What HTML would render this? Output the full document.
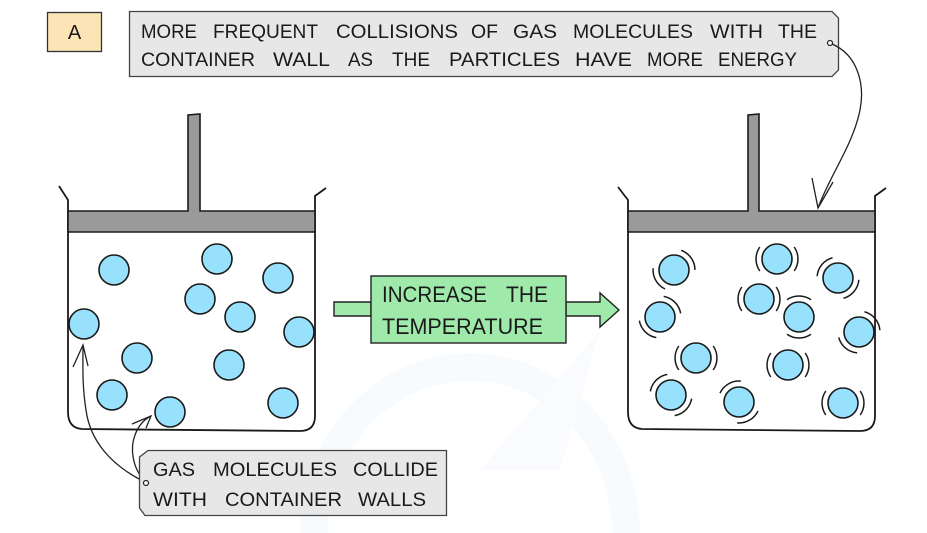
<!DOCTYPE html>
<html>
<head>
<meta charset="utf-8">
<style>
  html,body{margin:0;padding:0;background:#fff;}
  svg{display:block;}
  text{font-family:"Liberation Sans", sans-serif; fill:#1a1a1a;}
</style>
</head>
<body>
<svg width="927" height="533" viewBox="0 0 927 533" xmlns="http://www.w3.org/2000/svg">
  <!-- faint watermark -->
  <path d="M300,533 A170,180 0 0 1 640,533 L612,533 A142,152 0 0 0 328,533 Z" fill="#f8fbfe"/>
  <path d="M480,470 L600,330 L560,470 Z" fill="#f9fbfe"/>

  <!-- Label A -->
  <rect x="47.5" y="12.5" width="54" height="39" fill="#fde4b6" stroke="#333" stroke-width="1.3"/>
  <text x="74.5" y="39" font-size="20" text-anchor="middle">A</text>

  <!-- Top annotation box -->
  <path d="M129.5,11.5 L832,11.5 L838.5,18 L838.5,70 L832,76.5 L129.5,76.5 Z" fill="#e7e7e7" stroke="#444" stroke-width="1.3"/>
  <g font-size="19.5">
    <text x="141" y="38" textLength="56" lengthAdjust="spacingAndGlyphs">MORE</text>
    <text x="213" y="38" textLength="105" lengthAdjust="spacingAndGlyphs">FREQUENT</text>
    <text x="336" y="38" textLength="122" lengthAdjust="spacingAndGlyphs">COLLISIONS</text>
    <text x="471" y="38" textLength="27" lengthAdjust="spacingAndGlyphs">OF</text>
    <text x="513" y="38" textLength="44" lengthAdjust="spacingAndGlyphs">GAS</text>
    <text x="573" y="38" textLength="120" lengthAdjust="spacingAndGlyphs">MOLECULES</text>
    <text x="710" y="38" textLength="53" lengthAdjust="spacingAndGlyphs">WITH</text>
    <text x="778" y="38" textLength="39" lengthAdjust="spacingAndGlyphs">THE</text>

    <text x="141" y="66" textLength="114" lengthAdjust="spacingAndGlyphs">CONTAINER</text>
    <text x="273" y="66" textLength="57" lengthAdjust="spacingAndGlyphs">WALL</text>
    <text x="348" y="66" textLength="25" lengthAdjust="spacingAndGlyphs">AS</text>
    <text x="392" y="66" textLength="38" lengthAdjust="spacingAndGlyphs">THE</text>
    <text x="449" y="66" textLength="111" lengthAdjust="spacingAndGlyphs">PARTICLES</text>
    <text x="575" y="66" textLength="57" lengthAdjust="spacingAndGlyphs">HAVE</text>
    <text x="647" y="66" textLength="56" lengthAdjust="spacingAndGlyphs">MORE</text>
    <text x="718" y="66" textLength="79" lengthAdjust="spacingAndGlyphs">ENERGY</text>
  </g>

  <!-- top connector -->
  <circle cx="830" cy="43" r="2.5" fill="#fff" stroke="#222" stroke-width="1.2"/>
  <path d="M832,44 C858,55 865,85 860,110 C853,145 830,175 818,208" fill="none" stroke="#222" stroke-width="1.3"/>
  <path d="M812,178 L818,208 L833,182" fill="none" stroke="#222" stroke-width="1.3"/>

  <!-- LEFT CONTAINER -->
  <path d="M59,186 L68,200 L68,412 Q68,428 82,429 L300,431 Q315,431 315,416 L315,196 L326,188" fill="none" stroke="#1a1a1a" stroke-width="1.8"/>
  <path d="M68,211 L188,211 L188,115 L200,114 L200,211 L315,211 L315,232 L68,232 Z" fill="#9a9a9a" stroke="#1a1a1a" stroke-width="1.6"/>

  <g fill="#98e1fc" stroke="#1a1a1a" stroke-width="1.6">
    <circle cx="114" cy="270" r="15"/>
    <circle cx="217" cy="259" r="15"/>
    <circle cx="278" cy="278" r="15"/>
    <circle cx="200" cy="299" r="15"/>
    <circle cx="240" cy="317" r="15"/>
    <circle cx="84" cy="324" r="15"/>
    <circle cx="299" cy="332" r="15"/>
    <circle cx="137" cy="358" r="15"/>
    <circle cx="229" cy="365" r="15"/>
    <circle cx="112" cy="395" r="15"/>
    <circle cx="170" cy="412" r="15"/>
    <circle cx="283" cy="403" r="15"/>
  </g>

  <!-- bottom annotation connectors -->
  <path d="M145,482 C110,465 90,440 86,410 C82,385 83,365 83,345" fill="none" stroke="#222" stroke-width="1.3"/>
  <path d="M73,367 L83,345 L88,366" fill="none" stroke="#222" stroke-width="1.3"/>
  <path d="M145,481 C132,468 130,448 135,435 C139,424 145,419 151,416" fill="none" stroke="#222" stroke-width="1.3"/>
  <path d="M132,424 L151,416 L146,428" fill="none" stroke="#222" stroke-width="1.3"/>

  <!-- bottom annotation box -->
  <path d="M148,450.5 L446.5,450.5 L446.5,515.5 L145,515.5 L139.5,508 L139.5,457 Z" fill="#e7e7e7" stroke="#444" stroke-width="1.3"/>
  <circle cx="146" cy="483" r="2.5" fill="#fff" stroke="#222" stroke-width="1.2"/>
  <g font-size="19.5">
    <text x="153" y="476" textLength="42" lengthAdjust="spacingAndGlyphs">GAS</text>
    <text x="213" y="476" textLength="124" lengthAdjust="spacingAndGlyphs">MOLECULES</text>
    <text x="353" y="476" textLength="85" lengthAdjust="spacingAndGlyphs">COLLIDE</text>
    <text x="153" y="506" textLength="54" lengthAdjust="spacingAndGlyphs">WITH</text>
    <text x="225" y="506" textLength="117" lengthAdjust="spacingAndGlyphs">CONTAINER</text>
    <text x="358" y="506" textLength="68" lengthAdjust="spacingAndGlyphs">WALLS</text>
  </g>

  <!-- MIDDLE ARROW -->
  <path d="M334,302 L371,302 L371,316 L334,316 Z" fill="#9fe9aa" stroke="#222" stroke-width="1.4"/>
  <path d="M566,302 L600,302 L600,293 L619,310 L600,327 L600,316 L566,316 Z" fill="#9fe9aa" stroke="#222" stroke-width="1.4"/>
  <rect x="371" y="276" width="195" height="67" fill="#9fe9aa" stroke="#222" stroke-width="1.4"/>
  <g font-size="22">
    <text x="382" y="302" textLength="105" lengthAdjust="spacingAndGlyphs">INCREASE</text>
    <text x="506" y="302" textLength="42" lengthAdjust="spacingAndGlyphs">THE</text>
    <text x="382" y="334" textLength="161" lengthAdjust="spacingAndGlyphs">TEMPERATURE</text>
  </g>

  <!-- RIGHT CONTAINER -->
  <path d="M618,187 L628,200 L628,412 Q628,428 642,429 L860,431 Q875,431 875,416 L875,196 L886,188" fill="none" stroke="#1a1a1a" stroke-width="1.8"/>
  <path d="M628,211 L748,211 L748,115 L759,114 L759,211 L875,211 L875,232 L628,232 Z" fill="#9a9a9a" stroke="#1a1a1a" stroke-width="1.6"/>

  <defs>
    <path id="arc" d="M17.2,-12 A21,21 0 0 1 17.2,12" fill="none" stroke="#1a1a1a" stroke-width="1.5"/>
  </defs>

  <g>
    <g transform="translate(674,270) rotate(-35)"><use href="#arc"/><use href="#arc" transform="rotate(185)"/></g>
    <g transform="translate(777,259) rotate(0)"><use href="#arc"/><use href="#arc" transform="rotate(180)"/></g>
    <g transform="translate(838,278) rotate(40)"><use href="#arc"/><use href="#arc" transform="rotate(180)"/></g>
    <g transform="translate(759,299) rotate(0)"><use href="#arc"/><use href="#arc" transform="rotate(180)"/></g>
    <g transform="translate(799,317) rotate(90)"><use href="#arc"/><use href="#arc" transform="rotate(180)"/></g>
    <g transform="translate(660,317) rotate(-45)"><use href="#arc"/><use href="#arc" transform="rotate(180)"/></g>
    <g transform="translate(859,332) rotate(-40)"><use href="#arc"/><use href="#arc" transform="rotate(170)"/></g>
    <g transform="translate(696,358) rotate(0)"><use href="#arc"/><use href="#arc" transform="rotate(180)"/></g>
    <g transform="translate(788,365) rotate(0)"><use href="#arc"/><use href="#arc" transform="rotate(180)"/></g>
    <g transform="translate(671,395) rotate(45)"><use href="#arc"/><use href="#arc" transform="rotate(180)"/></g>
    <g transform="translate(739,402) rotate(60)"><use href="#arc"/><use href="#arc" transform="rotate(180)"/></g>
    <g transform="translate(843,403) rotate(0)"><use href="#arc"/><use href="#arc" transform="rotate(180)"/></g>
  </g>

  <g fill="#98e1fc" stroke="#1a1a1a" stroke-width="1.6">
    <circle cx="674" cy="270" r="15"/>
    <circle cx="777" cy="259" r="15"/>
    <circle cx="838" cy="278" r="15"/>
    <circle cx="759" cy="299" r="15"/>
    <circle cx="799" cy="317" r="15"/>
    <circle cx="660" cy="317" r="15"/>
    <circle cx="859" cy="332" r="15"/>
    <circle cx="696" cy="358" r="15"/>
    <circle cx="788" cy="365" r="15"/>
    <circle cx="671" cy="395" r="15"/>
    <circle cx="739" cy="402" r="15"/>
    <circle cx="843" cy="403" r="15"/>
  </g>
</svg>
</body>
</html>
